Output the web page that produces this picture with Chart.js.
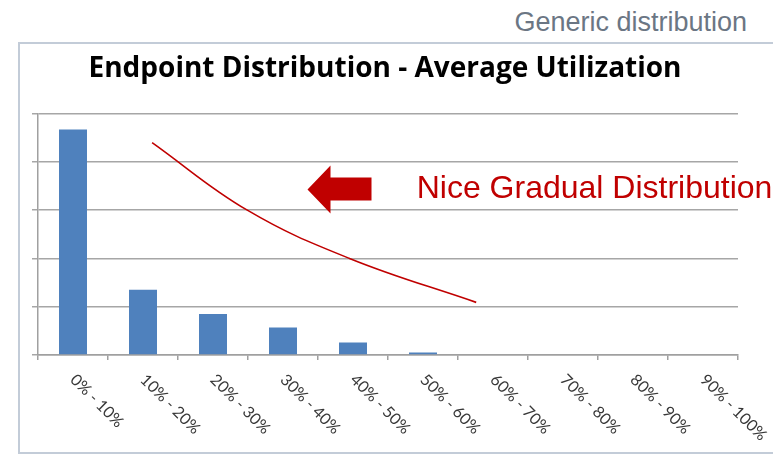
<!DOCTYPE html>
<html>
<head>
<meta charset="utf-8">
<script src="https://cdn.jsdelivr.net/npm/chart.js@4.4.1/dist/chart.umd.min.js"></script>
<style>
html, body { margin: 0; padding: 0; background: #fff; }
#wrap { position: relative; width: 773px; height: 455px; overflow: hidden; }
#frame { position: absolute; left: 18px; top: 42px; width: 800px; height: 412px; box-sizing: border-box; border: 2px solid #c3ccd8; }
#caption { position: absolute; right: 26px; top: 9px; font: 27px "Liberation Sans", Arial, sans-serif; line-height: 27px; color: #6b7684; white-space: nowrap; }
#myChart { position: absolute; left: 0; top: 0; }
</style>
</head>
<body>
<div id="wrap">
  <div id="frame"></div>
  <div id="caption">Generic distribution</div>
  <canvas id="myChart" width="773" height="455"></canvas>
</div>
<script>
// datos
const categorias = ['0% - 10%', '10% - 20%', '20% - 30%', '30% - 40%', '40% - 50%',
                    '50% - 60%', '60% - 70%', '70% - 80%', '80% - 90%', '90% - 100%'];
const valores = [4.67, 1.35, 0.85, 0.57, 0.26, 0.05, 0, 0, 0, 0];

// curva roja (posicion de categoria, valor)
const curvaX = [1.13, 2.49, 3.95, 5.76];
const curvaY = [4.40, 3.00, 2.00, 1.09];

// anotaciones
const flechaEn = [3.35, 3.43];
const notaEn = [4.91, 3.26];
const notaTexto = 'Nice Gradual Distribution';

const rojo = '#c00000';

const anotaciones = {
    id: 'anotaciones',
    afterDatasetsDraw(chart) {
        const ctx = chart.ctx;
        const x = chart.scales.x;
        const x2 = chart.scales.x2;
        const y = chart.scales.y;

        /* etiquetas del eje x inclinadas */
        ctx.save();
        ctx.fillStyle = '#383838';
        ctx.font = '16px Lato';
        ctx.textAlign = 'left';
        ctx.textBaseline = 'middle';
        categorias.forEach(function(c, i) {
            const px = x.getPixelForTick(i);
            ctx.save();
            ctx.translate(px, x.bottom + 17);
            ctx.rotate(Math.PI / 4);
            ctx.fillText(c, 0, 0);
            ctx.restore();
        });
        ctx.restore();

        /* flecha */
        const tx = x2.getPixelForValue(flechaEn[0]);
        const ty = y.getPixelForValue(flechaEn[1]);
        ctx.save();
        ctx.fillStyle = rojo;
        ctx.beginPath();
        ctx.moveTo(tx, ty);
        ctx.lineTo(tx + 23, ty - 24);
        ctx.lineTo(tx + 23, ty - 12);
        ctx.lineTo(tx + 64, ty - 12);
        ctx.lineTo(tx + 64, ty + 11);
        ctx.lineTo(tx + 23, ty + 11);
        ctx.lineTo(tx + 23, ty + 24);
        ctx.closePath();
        ctx.fill();

        /* texto */
        ctx.font = '32px "Liberation Sans"';
        ctx.textAlign = 'left';
        ctx.textBaseline = 'alphabetic';
        ctx.fillText(notaTexto, x2.getPixelForValue(notaEn[0]), y.getPixelForValue(notaEn[1]));
        ctx.restore();
    }
};

const ctx = document.getElementById('myChart').getContext('2d');

const myChart = new Chart(ctx, {
    type: 'bar',
    data: {
        labels: categorias,
        datasets: [{
            label: 'Endpoints',
            data: valores,
            backgroundColor: '#4f81bd',
            borderWidth: 0,
            grouped: false,
            categoryPercentage: 0.5,
            barPercentage: 0.8,
            xAxisID: 'x'
        }, {
            type: 'line',
            label: 'Tendencia',
            data: curvaX.map((v, i) => ({x: v, y: curvaY[i]})),
            xAxisID: 'x2',
            borderColor: rojo,
            borderWidth: 1.6,
            pointRadius: 0,
            fill: false,
            tension: 0.4
        }]
    },
    options: {
        responsive: false,
        animation: false,
        layout: {
            padding: {left: 32, right: 35, top: 0, bottom: 95}
        },
        plugins: {
            legend: {display: false},
            tooltip: {enabled: false},
            title: {
                display: true,
                text: 'Endpoint Distribution - Average Utilization',
                color: '#000',
                font: {family: 'Open Sans', size: 28, weight: 'bold'},
                padding: {top: 52, bottom: 28}
            }
        },
        scales: {
            x: {
                grid: {
                    drawOnChartArea: false,
                    drawTicks: true,
                    tickLength: 5,
                    color: '#a0a0a0',
                    lineWidth: 1.5
                },
                border: {color: '#a0a0a0', width: 1.5},
                ticks: {display: false}
            },
            x2: {
                type: 'linear',
                display: false,
                offset: false,
                grid: {offset: false},
                min: -0.5,
                max: 9.5
            },
            y: {
                min: 0,
                max: 5,
                ticks: {display: false, stepSize: 1},
                grid: {
                    color: '#a6a6a6',
                    lineWidth: 1.5,
                    tickLength: 6
                },
                border: {color: '#a0a0a0', width: 1.5}
            }
        }
    },
    plugins: [anotaciones]
});
</script>
</body>
</html>
